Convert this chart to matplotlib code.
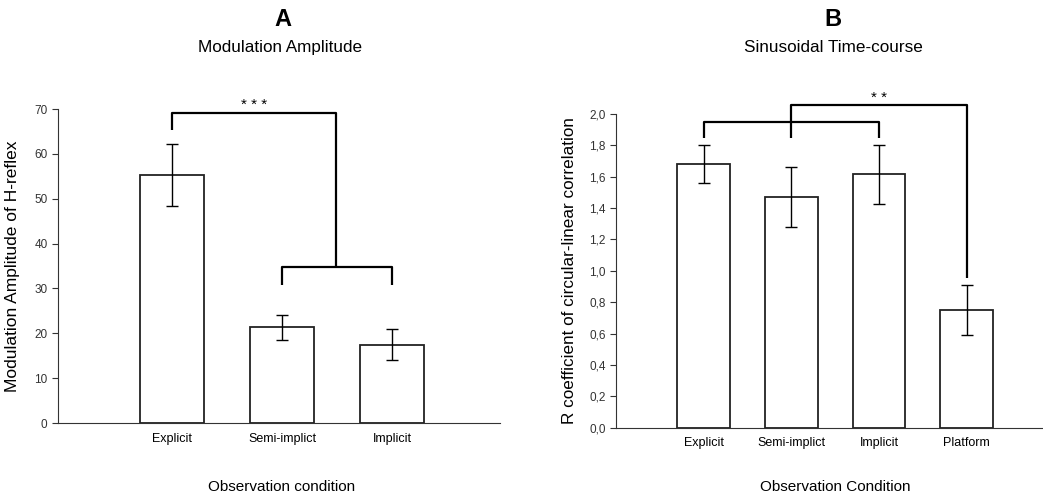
import numpy as np
import matplotlib.pyplot as plt

plt.rcParams['font.family'] = ['Liberation Sans', 'DejaVu Sans']

# Panel A: modulation amplitude of H-reflex
cond_a = ["Explicit", "Semi-implict", "Implicit"]
amp_mean = [55.2, 21.3, 17.5]
amp_err = [6.9, 2.7, 3.5]

# Panel B: R coefficient of circular-linear correlation
cond_b = ["Explicit", "Semi-implict", "Implicit", "Platform"]
r_mean = [1.68, 1.47, 1.615, 0.75]
r_err = [0.12, 0.19, 0.19, 0.16]

a_ticks = np.arange(0, 71, 10)
b_ticks = np.arange(0, 2.01, 0.2)


def bracket(ax, pts):
    """Draw a significance bracket as a polyline in data coordinates."""
    xs, ys = zip(*pts)
    ax.plot(xs, ys, color="black", lw=1.6, clip_on=False, solid_capstyle="butt")


def style_axes(ax):
    for s in ["top", "right"]:
        ax.spines[s].set_visible(False)
    ax.spines["left"].set_color("#333333")
    ax.spines["bottom"].set_color("#333333")
    ax.tick_params(axis="y", length=4, labelsize=8.5, colors="#333333", direction="out")
    ax.tick_params(axis="x", length=0, labelsize=9, pad=7)


fig = plt.figure(figsize=(10.43, 4.98), dpi=100)

# ---- Panel A
axA = fig.add_axes([0.0556, 0.1506, 0.4238, 0.6305])
xa = np.arange(len(cond_a))
axA.bar(xa, amp_mean, width=0.58, color="white", edgecolor="#222222", linewidth=1.3)
axA.errorbar(xa, amp_mean, yerr=amp_err, fmt="none", ecolor="black", elinewidth=1, capsize=4)
axA.set_xlim(-1.04, 2.98)
axA.set_ylim(0, 70)
axA.set_yticks(a_ticks)
axA.set_xticks(xa)
axA.set_xticklabels(cond_a)
axA.set_ylabel("Modulation Amplitude of H-reflex", fontsize=12.5, labelpad=10)
style_axes(axA)

bracket(axA, [(0, 65.3), (0, 69.2), (1.49, 69.2), (1.49, 34.8)])
bracket(axA, [(1, 30.8), (1, 34.8), (2, 34.8), (2, 30.8)])
axA.text(0.74, 69.3, "* * *", ha="center", va="bottom", fontsize=11)

fig.text(0.2713, 0.96, "A", ha="center", va="center", fontsize=17, fontweight="bold")
fig.text(0.2685, 0.905, "Modulation Amplitude", ha="center", va="center", fontsize=12.3)
fig.text(0.2704, 0.022, "Observation condition", ha="center", va="center", fontsize=11)

# ---- Panel B
axB = fig.add_axes([0.5906, 0.1412, 0.4094, 0.630])
xb = np.arange(len(cond_b))
axB.bar(xb, r_mean, width=0.6, color="white", edgecolor="#222222", linewidth=1.3)
axB.errorbar(xb, r_mean, yerr=r_err, fmt="none", ecolor="black", elinewidth=1, capsize=4)
axB.set_xlim(-1.0, 3.87)
axB.set_ylim(0, 2.0)
axB.set_yticks(b_ticks)
axB.set_yticklabels([f"{t:.1f}".replace(".", ",") for t in b_ticks])
axB.set_xticks(xb)
axB.set_xticklabels(cond_b)
axB.set_ylabel("R coefficient of circular-linear correlation", fontsize=12.3, labelpad=9)
style_axes(axB)

bracket(axB, [(0, 1.845), (0, 1.951), (2, 1.951), (2, 1.845)])
bracket(axB, [(1, 1.845), (1, 2.06), (3, 2.06), (3, 0.955)])
axB.text(2.0, 2.06, "* *", ha="center", va="bottom", fontsize=11)

fig.text(0.7987, 0.96, "B", ha="center", va="center", fontsize=17, fontweight="bold")
fig.text(0.7987, 0.905, "Sinusoidal Time-course", ha="center", va="center", fontsize=12.3)
fig.text(0.8006, 0.022, "Observation Condition", ha="center", va="center", fontsize=11)

fig.savefig("out.png", dpi=100)
